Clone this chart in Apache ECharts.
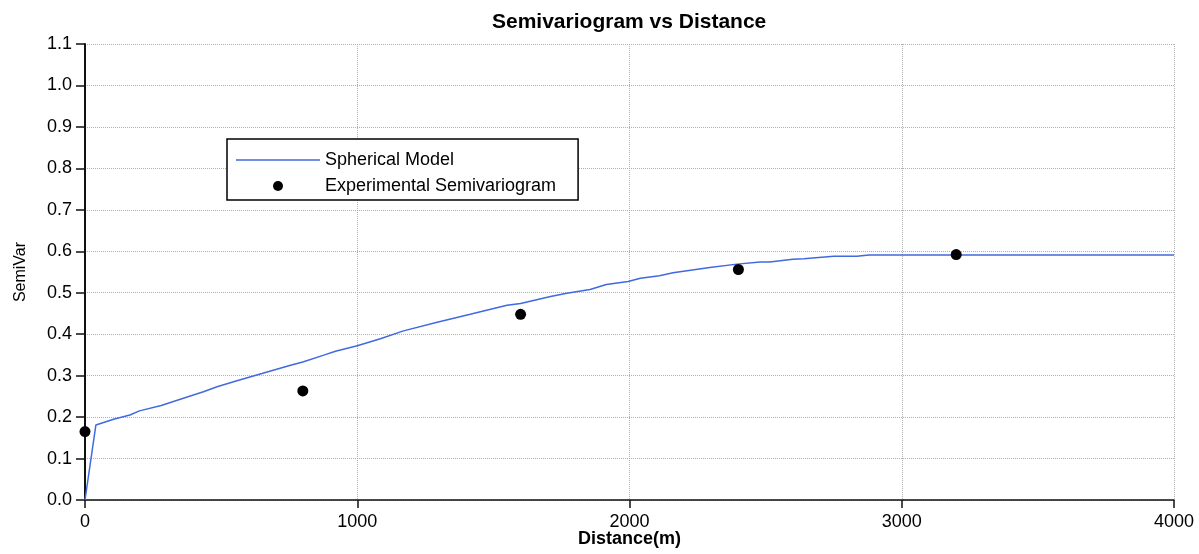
<!DOCTYPE html>
<html>
<head>
<meta charset="utf-8">
<script src="https://cdn.jsdelivr.net/npm/echarts@6/dist/echarts.min.js"></script>
<style>
  html, body { margin: 0; padding: 0; background: #fff; }
  #chart { width: 1199px; height: 554px; }
</style>
</head>
<body>
<div id="chart"></div>
<script>
// Fitted spherical model, sampled along distance (m)
const modelDist = [0, 40, 105, 165, 200, 280, 350, 435, 485, 555, 650, 755, 800, 880, 920, 1000,
  1085, 1170, 1290, 1415, 1550, 1600, 1710, 1770, 1855, 1915, 1995, 2040, 2110, 2160, 2295,
  2395, 2480, 2515, 2600, 2640, 2750, 2835, 2880, 4000];
const modelSemi = [0, 0.181, 0.195, 0.205, 0.215, 0.228, 0.243, 0.261, 0.273, 0.287, 0.305, 0.325,
  0.333, 0.350, 0.359, 0.372, 0.389, 0.408, 0.428, 0.448, 0.470, 0.474, 0.491, 0.499, 0.508,
  0.520, 0.527, 0.535, 0.541, 0.548, 0.561, 0.569, 0.574, 0.574, 0.581, 0.582, 0.588, 0.588,
  0.591, 0.591];

// Experimental semivariogram by lag distance
const expDist = [0, 800, 1600, 2400, 3200];
const expSemi = [0.165, 0.263, 0.448, 0.556, 0.592];

const titleText = 'Semivariogram vs Distance';
const xName = 'Distance(m)';
const yName = 'SemiVar';
const seriesNames = ['Spherical Model', 'Experimental Semivariogram'];

const FONT = 'Liberation Sans, Arial, Helvetica, sans-serif';
const MODEL_COLOR = '#4169e1';

const chart = echarts.init(document.getElementById('chart'), null, { renderer: 'canvas' });

chart.setOption({
  animation: false,
  backgroundColor: '#ffffff',
  title: {
    text: titleText,
    left: 487,
    top: 7,
    textStyle: { fontFamily: FONT, fontSize: 21, fontWeight: 'bold', color: '#000' }
  },
  grid: {
    left: 85, right: 25, top: 44, bottom: 54,
    containLabel: false,
    outerBoundsMode: 'none'
  },
  legend: {
    left: 227,
    top: 139,
    orient: 'vertical',
    backgroundColor: '#ffffff',
    borderColor: '#000',
    borderWidth: 1.5,
    borderRadius: 0,
    padding: [12, 22, 5, 9],
    itemWidth: 84,
    itemHeight: 10,
    itemGap: 8,
    textStyle: { fontFamily: FONT, fontSize: 18, color: '#000' },
    data: [
      { name: seriesNames[0], icon: 'path://M0,0 L84,0 L84,1.5 L0,1.5 Z' },
      { name: seriesNames[1], icon: 'circle' }
    ]
  },
  xAxis: {
    type: 'value',
    min: 0,
    max: 4000,
    interval: 1000,
    name: xName,
    nameLocation: 'middle',
    nameGap: 30,
    nameMoveOverlap: false,
    nameTextStyle: { fontFamily: FONT, fontSize: 18, fontWeight: 'bold', color: '#000' },
    axisLine: { show: true, onZero: false, lineStyle: { color: '#111', width: 1.5 } },
    axisTick: { show: true, length: 8, lineStyle: { color: '#111', width: 1.5 } },
    axisLabel: {
      fontFamily: FONT, fontSize: 18, color: '#000', margin: 13,
      formatter: v => String(v)
    },
    splitLine: { show: true, lineStyle: { color: '#b0b0b0', type: 'dotted', width: 1 } }
  },
  yAxis: {
    type: 'value',
    min: 0,
    max: 1.1,
    interval: 0.1,
    name: yName,
    nameLocation: 'middle',
    nameRotate: 90,
    nameGap: 56,
    nameMoveOverlap: false,
    nameTextStyle: { fontFamily: FONT, fontSize: 16, color: '#000' },
    axisLine: { show: true, onZero: false, lineStyle: { color: '#111', width: 2 } },
    axisTick: { show: true, length: 9, lineStyle: { color: '#111', width: 1.5 } },
    axisLabel: {
      fontFamily: FONT, fontSize: 18, color: '#000', margin: 13,
      formatter: v => v.toFixed(1)
    },
    splitLine: { show: true, lineStyle: { color: '#b0b0b0', type: 'dotted', width: 1 } }
  },
  series: [
    {
      name: seriesNames[0],
      type: 'line',
      data: modelDist.map((d, i) => [d, modelSemi[i]]),
      symbol: 'none',
      smooth: false,
      lineStyle: { color: MODEL_COLOR, width: 1.5 },
      itemStyle: { color: MODEL_COLOR },
      z: 2
    },
    {
      name: seriesNames[1],
      type: 'scatter',
      data: expDist.map((d, i) => [d, expSemi[i]]),
      symbol: 'circle',
      symbolSize: 11,
      clip: false,
      itemStyle: { color: '#000', opacity: 1 },
      z: 3
    }
  ]
});
</script>
</body>
</html>
